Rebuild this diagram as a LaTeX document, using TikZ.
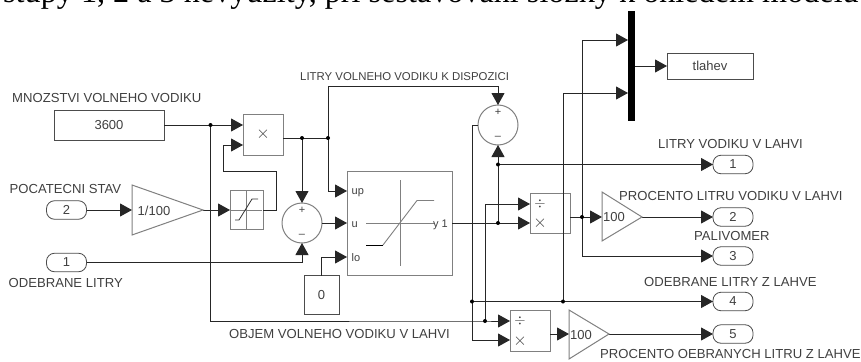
\documentclass[tikz,border=0pt]{standalone}
\usepackage{fontspec}
\setmainfont{Liberation Sans}
\newfontfamily\serifhead{Liberation Serif}
\usetikzlibrary{arrows.meta}
\definecolor{blk}{gray}{0.5}
\definecolor{txt}{gray}{0.25}
\tikzset{
 x=1pt,y=-1pt,
 wire/.style={draw=black!85,line width=0.9pt},
 arr/.style={wire,-{Triangle[length=12pt,width=13pt]}},
 block/.style={draw=blk,line width=1pt,fill=white,inner sep=0pt,outer sep=0pt,text=txt,font=\fontsize{13}{13}\selectfont},
 darkblock/.style={block,draw=black!70,line width=0.8pt},
 pill/.style={block,draw=black!70,line width=0.8pt,rounded corners=8pt,minimum width=40pt,minimum height=18.5pt},
 lab/.style={inner sep=0pt,text=txt,font=\fontsize{13.1}{14}\selectfont,anchor=base west},
 port/.style={inner sep=0pt,text=txt,font=\fontsize{11}{11}\selectfont},
 dot/.style={circle,fill=black,inner sep=0pt,minimum size=4pt},
 sumb/.style={circle,draw=blk,line width=1pt,fill=white,minimum size=40pt,inner sep=0pt,outer sep=0pt},
 gainb/.style={draw=blk,line width=1pt,line join=miter},
}
\begin{document}
\begin{tikzpicture}
\useasboundingbox (0,0) rectangle (861,361);
\fill[white] (0,0) rectangle (861,361);
\begin{scope}
\clip (0,0) rectangle (861,361);
\node[anchor=base west,inner sep=0pt,font=\fontsize{32.2}{33}\selectfont\serifhead] (head) at (3,3) {stupy 1, 2 a 3 nevyužity, při sestavování složky k ohledem modelu};
\end{scope}

% blocks
\node[darkblock,minimum width=110pt,minimum height=30pt] (c3600) at (109,125) {3600};
\node[block,minimum width=40pt,minimum height=41pt] (prod) at (263,134.5) {\fontsize{17}{17}\selectfont$\times$};
\node[block,minimum width=33pt,minimum height=39pt] (satS) at (246.5,210) {};
\node[pill] (in2) at (66.5,210) {2};
\node[pill] (in1) at (66.5,262.5) {1};
\node[darkblock,minimum width=35pt,minimum height=39pt] (c0) at (321.5,295) {0};
\node[sumb] (sumA) at (302,223) {};
\node[sumb] (sumB) at (498,125) {};
\node[block,minimum width=105pt,minimum height=104pt] (sat) at (399.5,223) {};
\node[block,minimum width=40pt,minimum height=40pt] (divA) at (550,213.5) {};
\node[block,minimum width=40pt,minimum height=41pt] (divB) at (530,330.5) {};
\node[fill=black,minimum width=7pt,minimum height=110pt,inner sep=0pt,outer sep=0pt] (mux) at (631.5,66) {};
\node[darkblock,minimum width=86pt,minimum height=26pt] (scope) at (710,66) {tlahev};
\node[pill] (o1) at (733,164.5) {1};
\node[pill] (o2) at (733,217) {2};
\node[pill] (o3) at (733,256) {3};
\node[pill] (o4) at (733,301.5) {4};
\node[pill] (o5) at (733,334) {5};

% junctions and bends
\coordinate (j1) at (210.5,125);
\coordinate (j2) at (302,138);
\coordinate (j3) at (328,138);
\coordinate (j4) at (498,223);
\coordinate (j5) at (498,164.5);
\coordinate (j6) at (582,217);
\coordinate (j7) at (563,301.5);
\coordinate (j8) at (472,301.5);
\coordinate (j9) at (485,321);
\coordinate (g1in) at (132,210);
\coordinate (g1out) at (203,210);
\coordinate (g2in) at (602,217);
\coordinate (g2out) at (642,217);
\coordinate (g3in) at (569,334);
\coordinate (g3out) at (609,334);
\coordinate (upIn) at (347,191);
\coordinate (uIn) at (347,223);
\coordinate (loIn) at (347,257);
\coordinate (pA) at (243,125);
\coordinate (pB) at (243,145);

% wires
\draw[arr] (c3600.east |- j1) -- (pA);
\draw[arr] (in2.east) -- (g1in);
\draw[arr] (g1out) -- (satS.west);
\draw[arr] (satS.east) -- (276,210) -- (276,171.5) -- (223,171.5) -- (223,145) -- (pB);
\draw[wire] (prod.east |- j2) -- (j3);
\draw[arr] (j2) -- (sumA.north);
\draw[arr] (j3) -- (328,191) -- (upIn);
\draw[arr] (j3) -- (328,86) -- (498,86) -- (sumB.north);
\draw[arr] (in1.east) -- (302,262.5) -- (sumA.south);
\draw[arr] (sumA.east) -- (uIn);
\draw[arr] (c0.north) -- (321.5,257) -- (loIn);
\draw[arr] (452,223) -- (530,223);
\draw[arr] (j4) -- (sumB.south);
\draw[arr] (j5) -- (o1.west);
\draw[arr] (j1) -- (210.5,321) -- (j9) -- (510,321);
\draw[arr] (j9) -- (485,204) -- (530,204);
\draw[arr] (sumB.west) -- (472,125) -- (472,340) -- (510,340);
\draw[arr] (j8) -- (o4.west);
\draw[arr] (j7) -- (563,93) -- (628,93);
\draw[wire] (570,217) -- (j6);
\draw[arr] (j6) -- (g2in);
\draw[arr] (j6) -- (582,40) -- (628,40);
\draw[arr] (j6) -- (582,256) -- (o3.west);
\draw[arr] (g2out) -- (o2.west);
\draw[arr] (550,334) -- (g3in);
\draw[arr] (g3out) -- (o5.west);
\draw[arr] (mux.east) -- (scope.west);

% gains
\path[gainb] (132,185) -- (203,210) -- (132,235) -- cycle;
\path[gainb] (602,192) -- (642,217) -- (602,241) -- cycle;
\path[gainb] (569,310) -- (609,334) -- (569,359) -- cycle;
\node[port,font=\fontsize{13}{13}\selectfont] (gt1) at (154,211) {1/100};
\node[port,font=\fontsize{13}{13}\selectfont] (gt2) at (614,217.5) {100};
\node[port,font=\fontsize{13}{13}\selectfont] (gt3) at (581,335) {100};

% junction dots
\foreach \j in {j1,j2,j3,j4,j5,j6,j7,j8,j9} \node[dot] at (\j) {};

% sum signs
\node[port] (sa) at (302,210) {+};
\node[port] (sb) at (302,236) {--};
\node[port] (sc) at (498,112) {+};
\node[port] (sd) at (498,138) {--};

% small saturation icon
\draw[blk,line width=1pt] (230,210) -- (262,210) (246,190) -- (246,229);
\draw[black!80,line width=0.8pt] (235,220) -- (239,220) -- (252,199) -- (258,199);
% large saturation icon
\draw[blk,line width=0.9pt] (366,223) -- (434,223) (400,180) -- (400,266);
\draw[black,line width=0.8pt] (366,245) -- (383,245);
\draw[blk,line width=0.9pt] (383,245) -- (417,200.5) -- (434,200.5);
\node[port,anchor=west] (pu) at (351.5,192.5) {up};
\node[port,anchor=west] (pv) at (351.5,225) {u};
\node[port,anchor=west] (pl) at (351.5,258) {lo};
\node[port,anchor=east] (py) at (448,224.5) {y 1};

% divider signs
\node[port,font=\fontsize{15}{15}\selectfont] (d1) at (540,204) {$\div$};
\node[port,font=\fontsize{17}{17}\selectfont] (d2) at (540,223) {$\times$};
\node[port,font=\fontsize{15}{15}\selectfont] (d3) at (520,321) {$\div$};
\node[port,font=\fontsize{17}{17}\selectfont] (d4) at (520,341) {$\times$};

% labels
\node[lab] (l1) at (12,102) {MNOZSTVI VOLNEHO VODIKU};
\node[lab,font=\fontsize{11.4}{12}\selectfont] (l2) at (300,81) {LITRY VOLNEHO VODIKU K DISPOZICI};
\node[lab] (l3) at (9.5,193) {POCATECNI STAV};
\node[lab] (l4) at (8.5,287) {ODEBRANE LITRY};
\node[lab] (l5) at (229,338) {OBJEM VOLNEHO VODIKU V LAHVI};
\node[lab] (l6) at (658,148) {LITRY VODIKU V LAHVI};
\node[lab] (l7) at (619,200) {PROCENTO LITRU VODIKU V LAHVI};
\node[lab] (l8) at (694,240) {PALIVOMER};
\node[lab] (l9) at (644,286) {ODEBRANE LITRY Z LAHVE};
\node[lab] (l10) at (600,358) {PROCENTO OEBRANYCH LITRU Z LAHVE};
\end{tikzpicture}
\end{document}
